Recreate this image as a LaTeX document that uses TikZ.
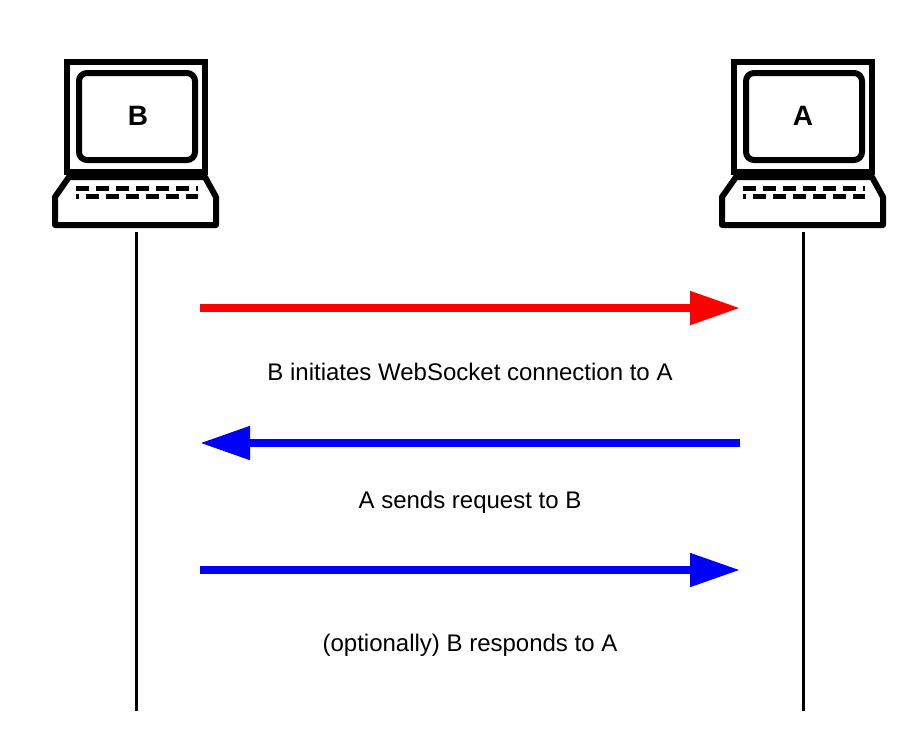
\documentclass[tikz,border=0pt]{standalone}
\usepackage{fontspec}
\setmainfont{Liberation Sans}
\usetikzlibrary{arrows.meta}
\tikzset{
  pc/.pic={
    \draw[line width=6.5pt] (-69,-74) rectangle (69,36);
    \draw[line width=6pt,rounded corners=8pt] (-57,-63) rectangle (59,24);
    \draw[line width=6pt,line join=round] (-67,41) -- (69,41) -- (80,61) -- (80,89) -- (-81,89) -- (-81,61) -- cycle;
    \fill (-60,50) -- (-60,50) rectangle +(0,0);
    \draw[line width=5pt,dash pattern=on 13pt off 7pt] (-60,52) -- (62,52);
    \draw[line width=5pt,dash pattern=on 13pt off 7pt,dash phase=10pt] (-60,60) -- (62,60);
  },
  life/.style={line width=3pt},
  msg/.style={line width=8pt,-{Triangle[length=50pt,width=32pt]}},
  lbl/.style={font=\fontsize{24}{28}\selectfont},
  title/.style={font=\fontsize{28}{32}\selectfont\bfseries}
}
\begin{document}
\begin{tikzpicture}[x=1pt,y=-1pt]
\useasboundingbox (0,0) rectangle (915,748);
\pic at (136,136) {pc};
\pic at (803,136) {pc};
\node[title] (nb) at (138,116) {B};
\node[title] (na) at (803,116) {A};
\coordinate (b0) at (136,232); \coordinate (b1) at (136,711);
\coordinate (a0) at (803,232); \coordinate (a1) at (803,711);
\draw[life] (b0) -- (b1);
\draw[life] (a0) -- (a1);
\coordinate (r0) at (200,308); \coordinate (r1) at (740,308);
\coordinate (u0) at (740,443); \coordinate (u1) at (200,443);
\coordinate (v0) at (200,570); \coordinate (v1) at (740,570);
\draw[msg,red] (r0) -- (r1);
\draw[msg,blue] (u0) -- (u1);
\draw[msg,blue] (v0) -- (v1);
\node[lbl] (l1) at (470,372) {B initiates WebSocket connection to A};
\node[lbl] (l2) at (470,502) {A sends request to B};
\node[lbl] (l3) at (470,645) {(optionally) B responds to A};
\end{tikzpicture}
\end{document}
